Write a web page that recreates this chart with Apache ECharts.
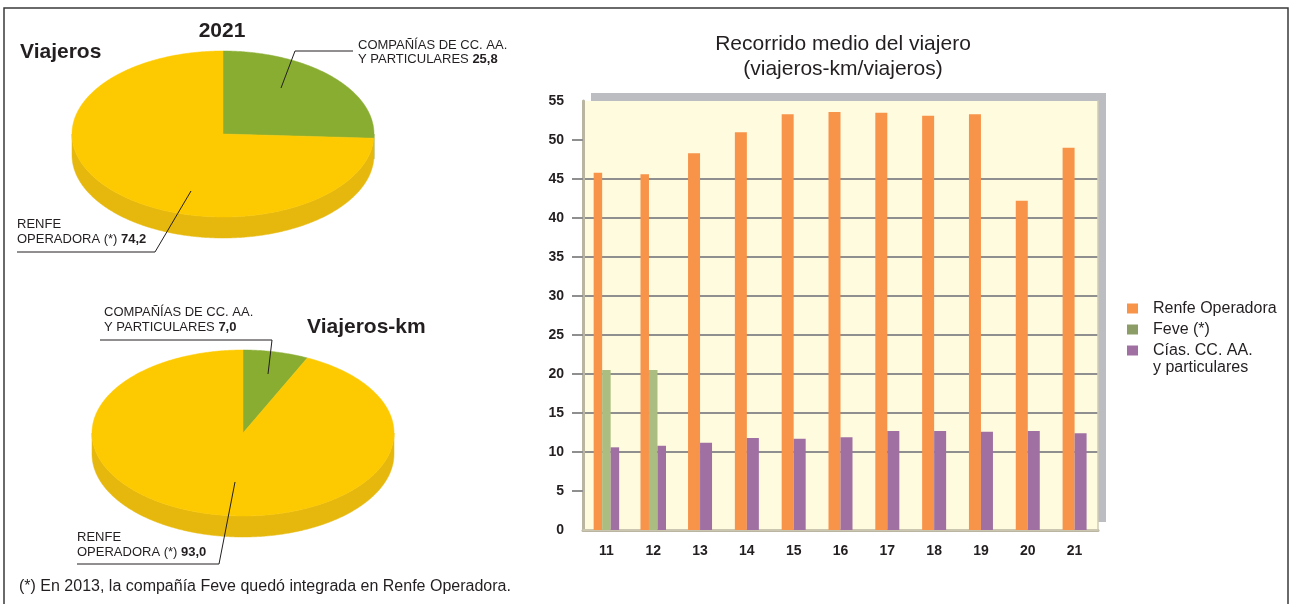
<!DOCTYPE html>
<html>
<head>
<meta charset="utf-8">
<script src="https://cdn.jsdelivr.net/npm/echarts@6/dist/echarts.min.js"></script>
<style>
html,body{margin:0;padding:0;background:#fff;}
#c{width:1290px;height:604px;}
</style>
</head>
<body>
<div id="c"></div>
<script>
// ---------- DATA ----------
const categories = ['11','12','13','14','15','16','17','18','19','20','21'];
const renfe = [45.8, 45.6, 48.3, 51.0, 53.3, 53.6, 53.5, 53.1, 53.3, 42.2, 49.0];
const feve  = [20.5, 20.5, null, null, null, null, null, null, null, null, null];
const cias  = [10.6, 10.8, 11.2, 11.8, 11.7, 11.9, 12.7, 12.7, 12.6, 12.7, 12.4];
const yTicks = [0, 5, 10, 15, 20, 25, 30, 35, 40, 45, 50, 55];
const seriesNames = ['Renfe Operadora', 'Feve (*)', 'Cías. CC. AA.\ny particulares'];

const pieNames = ['COMPAÑÍAS DE CC. AA.\nY PARTICULARES', 'RENFE\nOPERADORA (*)'];
const pieViajeros = [25.8, 74.2];
const pieViajerosKm = [7.0, 93.0];

const chartTitle = 'Recorrido medio del viajero\n(viajeros-km/viajeros)';
const footnote = '(*) En 2013, la compañía Feve quedó integrada en Renfe Operadora.';

// ---------- STYLE ----------
const FONT = '"Liberation Sans", Arial, Helvetica, sans-serif';
const TXT = '#231f20';
const C_RENFE = '#f7944a', C_FEVE = '#abbd80', C_FEVE_LEG = '#8c9d68', C_CIAS = '#a070a3';
const BEIGE = '#b9b5a0';
const PIE_TOP = ['#88ad31', '#fdc900'];
const PIE_SIDE = ['#6f9024', '#e6b80d'];

// split bars: categories with Feve get three narrow bars, others two wide bars
const hasFeve = feve.map(v => v != null);
const renfeA = renfe.map((v, i) => hasFeve[i] ? v : null);
const ciasA  = cias.map((v, i) => hasFeve[i] ? v : null);
const renfeB = renfe.map((v, i) => hasFeve[i] ? null : v);
const ciasB  = cias.map((v, i) => hasFeve[i] ? null : v);

function fmt(v) { return v.toFixed(1).replace('.', ','); }

// elliptical "3D" pie drawn by a custom series
function pieSeries(vals, cx, cy, rx, ry, depth) {
  const total = vals.reduce((a, b) => a + b, 0);
  return {
    type: 'custom',
    coordinateSystem: 'none',
    silent: true,
    z: 2,
    data: vals,
    renderItem: function (params, api) {
      const i = params.dataIndex;
      let before = 0;
      for (let k = 0; k < i; k++) before += vals[k];
      const a0 = before / total * 360;
      const a1 = (before + api.value(0)) / total * 360;
      const pt = (deg, dy) => {
        const r = deg * Math.PI / 180;
        return [cx + rx * Math.sin(r), cy - ry * Math.cos(r) + (dy || 0)];
      };
      const children = [];
      const s0 = Math.max(a0, 90), s1 = Math.min(a1, 270);
      if (s1 > s0) {
        const pts = [];
        for (let d = s0; d <= s1; d += 0.5) pts.push(pt(d, 0));
        pts.push(pt(s1, 0));
        pts.push(pt(s1, depth));
        for (let d = s1; d >= s0; d -= 0.5) pts.push(pt(d, depth));
        pts.push(pt(s0, depth));
        children.push({ type: 'polygon', z2: 1, shape: { points: pts }, style: { fill: PIE_SIDE[i], stroke: PIE_SIDE[i], lineWidth: 0.5 } });
      }
      const top = [[cx, cy]];
      for (let d = a0; d <= a1; d += 0.5) top.push(pt(d, 0));
      top.push(pt(a1, 0));
      children.push({ type: 'polygon', z2: 2, shape: { points: top }, style: { fill: PIE_TOP[i], stroke: PIE_TOP[i], lineWidth: 0.5 } });
      return { type: 'group', children: children };
    }
  };
}

function labelText(x, y, nameIdx, value, lh) {
  const lines = pieNames[nameIdx].split('\n');
  const txt = lines[0] + '\n' + lines[1] + ' {b|' + fmt(value) + '}';
  return {
    type: 'text', x: x, y: y, z: 100, silent: true,
    style: {
      text: txt, fill: TXT, font: '13px ' + FONT, lineHeight: lh, verticalAlign: 'top',
      rich: { b: { fontWeight: 'bold', fontSize: 13, fontFamily: FONT, fill: TXT, lineHeight: lh } }
    }
  };
}
function leader(points) {
  return { type: 'polyline', z: 100, silent: true, shape: { points: points }, style: { stroke: TXT, lineWidth: 1, fill: null } };
}

const chart = echarts.init(document.getElementById('c'), null, { renderer: 'canvas' });

const option = {
  backgroundColor: '#ffffff',
  animation: false,
  textStyle: { fontFamily: FONT },
  title: {
    text: chartTitle,
    left: 838, top: 27, textAlign: 'center',
    textStyle: { fontSize: 21, fontWeight: 'normal', color: TXT, lineHeight: 25, fontFamily: FONT }
  },
  legend: {
    orient: 'vertical',
    left: 1122, top: 295,
    itemWidth: 11, itemHeight: 10, itemGap: 4,
    icon: 'rect',
    selectedMode: false,
    textStyle: { fontSize: 16, color: TXT, fontFamily: FONT, lineHeight: 17, padding: [0, 0, 0, 10] },
    formatter: function (name) { return name.split('\n')[0]; },
    data: [
      { name: seriesNames[0], itemStyle: { color: C_RENFE } },
      { name: seriesNames[1], itemStyle: { color: C_FEVE_LEG } },
      { name: seriesNames[2], itemStyle: { color: C_CIAS } }
    ]
  },
  grid: {
    left: 583, top: 101, width: 515, height: 429,
    show: true,
    backgroundColor: '#fffbdf',
    borderWidth: 0,
    shadowColor: '#bcbdc1', shadowBlur: 0, shadowOffsetX: 8, shadowOffsetY: -8
  },
  xAxis: [
    {
      type: 'category', data: categories, gridIndex: 0, position: 'bottom',
      axisLine: { show: true, lineStyle: { color: BEIGE, width: 3 } },
      axisTick: { show: false },
      axisLabel: { fontSize: 14, fontWeight: 'bold', color: TXT, margin: 14, fontFamily: FONT },
      splitLine: { show: false }
    },
    {
      type: 'category', data: categories, gridIndex: 0, position: 'top',
      axisLine: { show: true, lineStyle: { color: '#cfcbb4', width: 1.5 } },
      axisTick: { show: false }, axisLabel: { show: false }, splitLine: { show: false }
    }
  ],
  yAxis: [
    {
      type: 'value', min: yTicks[0], max: yTicks[yTicks.length - 1], interval: 5, position: 'left',
      axisLine: { show: true, lineStyle: { color: BEIGE, width: 3 } },
      axisTick: { show: true, length: 11, customValues: yTicks.slice(1, -1), lineStyle: { color: '#8f8f8f', width: 2 } },
      axisLabel: { fontSize: 14, fontWeight: 'bold', color: TXT, margin: 19, fontFamily: FONT },
      splitLine: { show: true, showMinLine: false, showMaxLine: false, lineStyle: { color: '#8f8f8f', width: 2 } }
    },
    {
      type: 'value', min: yTicks[0], max: yTicks[yTicks.length - 1], interval: 5, position: 'right',
      axisLine: { show: true, lineStyle: { color: '#cfcbb4', width: 1.5 } },
      axisTick: { show: false }, axisLabel: { show: false }, splitLine: { show: false }
    }
  ],
  series: [
    { name: seriesNames[0], type: 'bar', xAxisIndex: 0, data: renfeA, barWidth: 8.5, barGap: '0%', itemStyle: { color: C_RENFE } },
    { name: seriesNames[1], type: 'bar', xAxisIndex: 0, data: feve, barWidth: 8.5, barGap: '0%', itemStyle: { color: C_FEVE } },
    { name: seriesNames[2], type: 'bar', xAxisIndex: 0, data: ciasA, barWidth: 8.5, barGap: '0%', itemStyle: { color: C_CIAS } },
    { name: seriesNames[0], type: 'bar', xAxisIndex: 1, data: renfeB, barWidth: 12, barGap: '0%', itemStyle: { color: C_RENFE } },
    { name: seriesNames[2], type: 'bar', xAxisIndex: 1, data: ciasB, barWidth: 12, barGap: '0%', itemStyle: { color: C_CIAS } },
    pieSeries(pieViajeros, 223, 134, 151, 83, 21),
    pieSeries(pieViajerosKm, 243, 433, 151, 83, 21)
  ],
  graphic: [
    { type: 'rect', z: 100, silent: true, shape: { x: 4, y: 8, width: 1284, height: 640 }, style: { fill: null, stroke: '#3a3a3a', lineWidth: 1.5 } },
    { type: 'text', z: 100, silent: true, x: 222, y: 31, style: { text: '2021', font: 'bold 21px ' + FONT, fill: TXT, align: 'center', verticalAlign: 'middle' } },
    { type: 'text', z: 100, silent: true, x: 20, y: 52, style: { text: 'Viajeros', font: 'bold 21px ' + FONT, fill: TXT, align: 'left', verticalAlign: 'middle' } },
    { type: 'text', z: 100, silent: true, x: 307, y: 327, style: { text: 'Viajeros-km', font: 'bold 21px ' + FONT, fill: TXT, align: 'left', verticalAlign: 'middle' } },
    labelText(358, 38, 0, pieViajeros[0], 14),
    labelText(17, 217, 1, pieViajeros[1], 15),
    labelText(104, 304.5, 0, pieViajerosKm[0], 15),
    labelText(77, 529.5, 1, pieViajerosKm[1], 15),
    leader([[281, 88], [295, 51], [353, 51]]),
    leader([[191, 191], [155, 252], [17, 252]]),
    leader([[100, 340], [272, 340], [268, 374]]),
    leader([[235, 482], [219, 564], [77, 564]]),
    { type: 'text', z: 100, silent: true, x: 1153, y: 368, style: { text: seriesNames[2].split('\n')[1], font: '16px ' + FONT, fill: TXT, verticalAlign: 'middle' } },
    { type: 'text', z: 100, silent: true, x: 19, y: 587, style: { text: footnote, font: '16px ' + FONT, fill: TXT, verticalAlign: 'middle' } }
  ]
};
chart.setOption(option);
</script>
</body>
</html>
